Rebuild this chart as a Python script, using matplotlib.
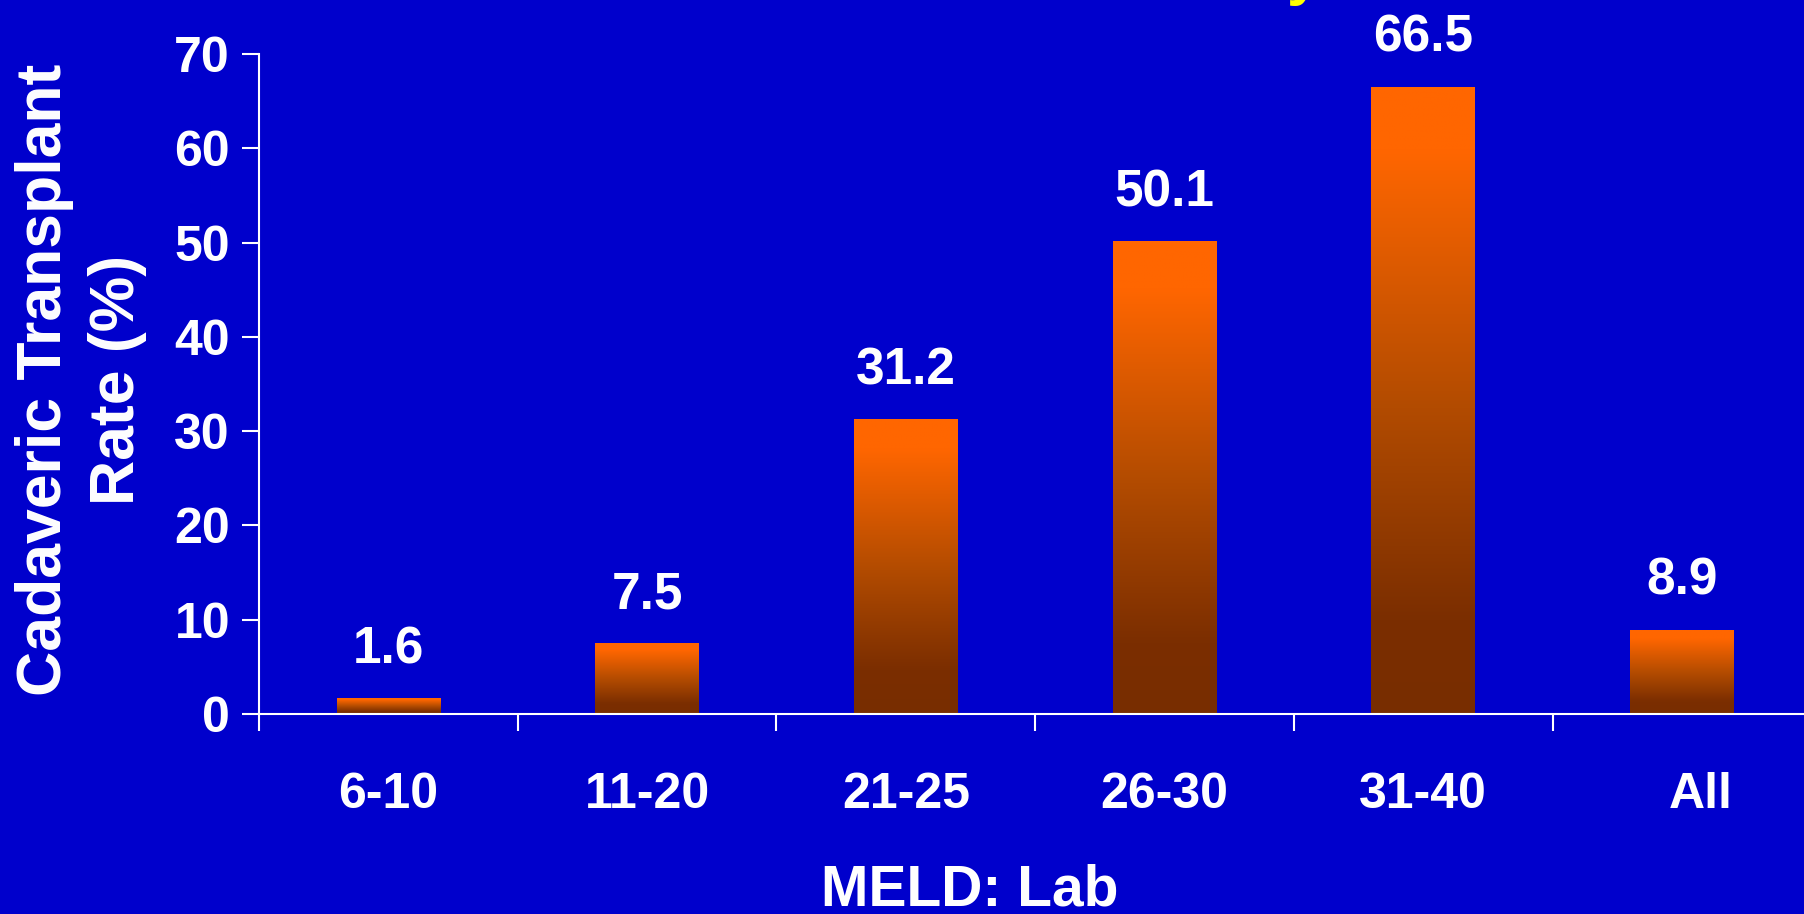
import matplotlib
matplotlib.use("Agg")
import matplotlib.pyplot as plt
import matplotlib.transforms as mtransforms
import numpy as np
from matplotlib.colors import LinearSegmentedColormap

categories = ["6-10", "11-20", "21-25", "26-30", "31-40", "All"]
rates = [1.6, 7.5, 31.2, 50.1, 66.5, 8.9]

BG = "#0000CC"
FONT = ["Liberation Sans", "DejaVu Sans"]

# bottom -> top shading of each bar
bar_cmap = LinearSegmentedColormap.from_list(
    "bar", [(0.0, "#782D00"), (0.15, "#7B2E00"), (0.5, "#B44C00"),
            (0.9, "#FF6600"), (1.0, "#FF6600")])

fig = plt.figure(figsize=(18.04, 9.14), dpi=100, facecolor=BG)
ax = fig.add_axes([0.1436, 0.2188, 0.8604, 0.7221], facecolor=BG)

x = np.arange(len(categories))
width = 0.4
bars = ax.bar(x, rates, width=width, color="none", edgecolor="none")
grad = np.linspace(0, 1, 256).reshape(-1, 1)
for b, v in zip(bars, rates):
    x0 = b.get_x()
    ax.imshow(grad, cmap=bar_cmap, origin="lower", aspect="auto",
              extent=(x0, x0 + width, 0, v), zorder=2, interpolation="bilinear")
    ax.annotate(f"{v:.1f}", (b.get_x() + width / 2, v), xytext=(0, 35),
                textcoords="offset points", ha="center", va="center",
                color="white", fontsize=37, fontweight="bold", family=FONT)

ax.set_xlim(-0.5, len(categories) - 0.5)
ax.set_ylim(0, 70)
ax.set_yticks(range(0, 71, 10))
ax.set_xticks(x)
ax.set_xticklabels(categories)
ax.set_xticks(np.arange(-0.5, len(categories)), minor=True)

for s in ["top", "right"]:
    ax.spines[s].set_visible(False)
for s in ["left", "bottom"]:
    ax.spines[s].set_color("white")
    ax.spines[s].set_linewidth(1.5)

ax.tick_params(axis="y", colors="white", length=12, width=1.5, pad=9,
               labelsize=36)
ax.tick_params(axis="x", which="major", length=0, pad=42, colors="white",
               labelsize=36)
ax.tick_params(axis="x", which="minor", length=12, width=1.5, color="white")
for lbl in ax.get_xticklabels() + ax.get_yticklabels():
    lbl.set_fontweight("bold")
    lbl.set_family(FONT)

# "All" sits a little right of its bar
last = ax.get_xticklabels()[-1]
last.set_transform(last.get_transform() +
                   mtransforms.ScaledTranslation(0.19, 0, fig.dpi_scale_trans))

fig.text(81 / 1804, 1 - 380 / 914, "Cadaveric Transplant\nRate (%)",
         rotation=90, ha="center", va="center", multialignment="center",
         color="white", fontsize=45, fontweight="bold", family=FONT,
         linespacing=1.3)
fig.text(970 / 1804, 1 - 906 / 914, "MELD: Lab", ha="center", va="baseline",
         color="white", fontsize=41, fontweight="bold", family=FONT)

# tail of the slide title running off the top
fig.text(1287 / 1804, 1 + 7 / 914, "y", ha="left", va="baseline",
         color="#FFFF00", fontsize=44, fontweight="bold", family=FONT)

fig.savefig("out.png", dpi=100, facecolor=BG)
